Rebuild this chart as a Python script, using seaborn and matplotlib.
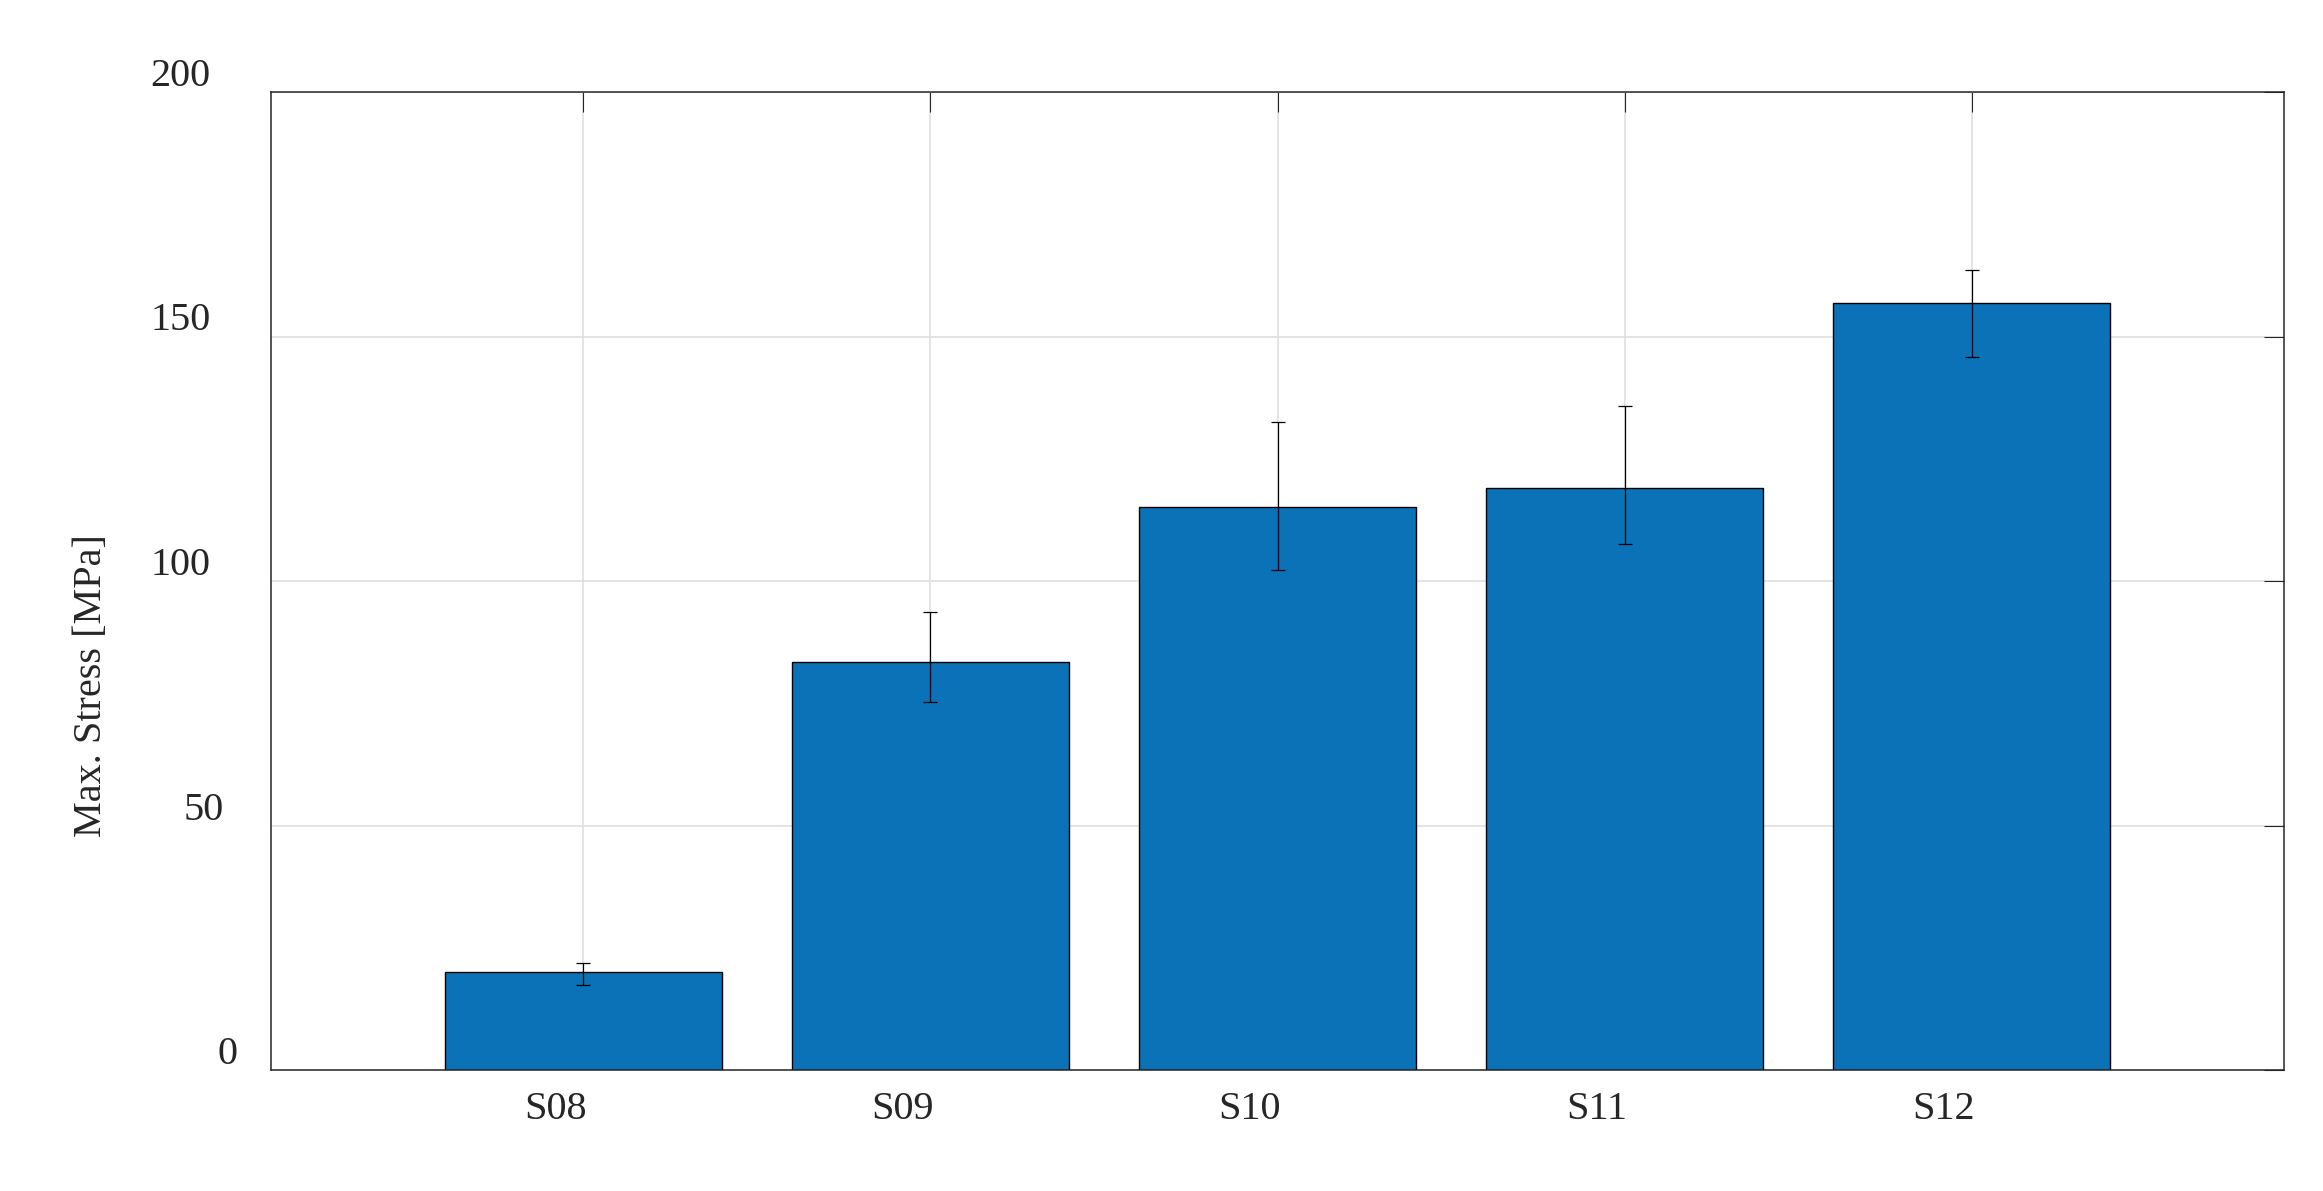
import numpy as np
import pandas as pd
import matplotlib
matplotlib.use('Agg')
import matplotlib.pyplot as plt
import matplotlib.transforms as mtransforms
import seaborn as sns

# Data
samples = ['S08', 'S09', 'S10', 'S11', 'S12']
max_stress = [20.1, 83.4, 115.1, 119.0, 156.8]
err_low = [2.8, 8.2, 12.9, 11.5, 10.9]
err_high = [1.7, 10.2, 17.4, 16.7, 6.9]
y_ticks = [0, 50, 100, 150, 200]

df = pd.DataFrame({'sample': samples, 'stress': max_stress})

sns.set_theme(style='white')
plt.rcParams['font.family'] = ['Liberation Serif', 'DejaVu Serif']
plt.rcParams['font.size'] = 29

dark = '#262626'
fig = plt.figure(figsize=(23.23, 11.91), dpi=100)
ax = fig.add_axes([271 / 2323, 1 - 1070 / 1191, (2284 - 271) / 2323, (1070 - 92) / 1191])

sns.barplot(data=df, x='sample', y='stress', color='#0b72b8', saturation=1,
            width=0.8, edgecolor='black', linewidth=1.0, errorbar=None, ax=ax)

ax.errorbar(np.arange(len(samples)), max_stress, yerr=[err_low, err_high],
            fmt='none', ecolor='black', elinewidth=0.9, capsize=5, capthick=0.9, zorder=5)

ax.set_xlim(-0.9, len(samples) - 0.1)
ax.set_ylim(0, 200)
ax.set_yticks(y_ticks)
ax.set_xlabel('')
ax.set_ylabel('Max. Stress [MPa]', fontsize=29, color=dark)
ax.yaxis.set_label_coords(-0.08, 0.393)

ax.set_axisbelow(True)
ax.grid(True, color='#dfdfdf', linewidth=1.2)

for side in ['left', 'right', 'top', 'bottom']:
    ax.spines[side].set_visible(True)
    ax.spines[side].set_color(dark)
    ax.spines[side].set_linewidth(1.1)

ax.tick_params(axis='both', direction='in', length=14.4, width=0.8, color=dark,
               labelcolor=dark, labelsize=29, top=True, right=True)
ax.tick_params(axis='y', pad=43.5)
ax.tick_params(axis='x', pad=15)

# MATLAB-like label placement: raised y labels, shorter labels shifted right,
# x labels slightly left of their ticks
fig.canvas.draw()
for lab in ax.get_yticklabels():
    n = len(lab.get_text())
    off = mtransforms.ScaledTranslation((3 - n) * 13.5 / 100, 20 / 100, fig.dpi_scale_trans)
    lab.set_transform(lab.get_transform() + off)
for lab in ax.get_xticklabels():
    off = mtransforms.ScaledTranslation(-28 / 100, 0, fig.dpi_scale_trans)
    lab.set_transform(lab.get_transform() + off)

fig.savefig('out.png', dpi=100)
